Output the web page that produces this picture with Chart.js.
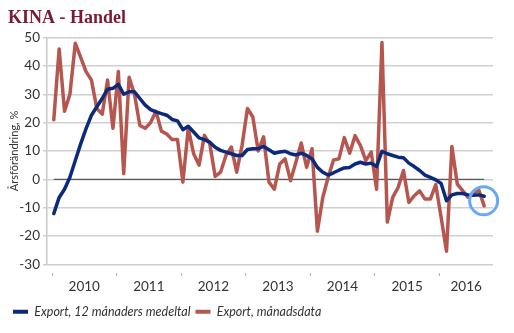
<!DOCTYPE html>
<html lang="sv">
<head>
<meta charset="UTF-8">
<title>KINA - Handel</title>
<style>
    html, body { margin: 0; padding: 0; background: #ffffff; }
    #wrap { width: 514px; height: 333px; position: relative; }
</style>
</head>
<body>
<div id="wrap"><canvas id="chart"></canvas></div>
<script src="https://cdn.jsdelivr.net/npm/chart.js"></script>
<script>
// monthly data, Jan 2010 .. Sep 2016
const years = ['2010', '2011', '2012', '2013', '2014', '2015', '2016'];

const exportAvg12 = [
    -12.1, -6.4, -3.5, 0.7, 6.6, 12.5, 17.9, 22.6, 25.6, 28.5, 31.8, 32.1,
    33.5, 30.0, 30.9, 30.9, 28.5, 26.2, 24.6, 23.8, 23.2, 22.6, 21.1, 20.6,
    17.5, 18.7, 16.7, 14.6, 14.0, 13.1, 11.3, 10.2, 9.6, 9.0, 8.4, 8.4,
    10.5, 10.8, 10.8, 11.6, 10.4, 9.2, 9.6, 9.9, 9.0, 8.6, 9.2, 8.4,
    7.2, 4.2, 2.5, 1.5, 2.3, 3.2, 4.0, 4.2, 5.4, 6.0, 5.4, 5.7,
    4.5, 9.9, 9.0, 8.4, 7.8, 7.6, 5.7, 4.5, 3.1, 1.5, 0.7, -0.2,
    -1.5, -7.6, -5.5, -5.0, -5.0, -5.5, -5.6, -5.5, -6.0
];

const exportMonthly = [
    21, 46, 24, 30, 48, 43, 38, 35, 25, 23, 35, 18,
    38, 2, 36, 30, 19, 18, 20, 24, 17, 16, 14, 14,
    -1, 18, 9, 5, 15.5, 12.5, 1, 2.5, 8.4, 11.4, 2.5, 12,
    25, 22, 10, 15, -1, -3.5, 5.4, 7.2, -0.5, 6, 12.8, 4.2,
    10.8, -18.3, -6.4, 0.7, 6.8, 7.2, 14.7, 9.2, 15.4, 11.9, 6.6, 9.6,
    -3.5, 48.3, -15.1, -6.4, -2.9, 3.1, -8.2, -5.8, -4.1, -7, -7, -1.9,
    -13.5, -25.4, 11.6, -1.7, -4, -6.4, -5, -3.8, -9.4
];

// marked latest reading
const highlight = [{ x: 79.9, y: -7.6 }];

const lastIdx = exportMonthly.length - 1;
const toPoints = arr => arr.map((v, i) => ({ x: i, y: v }));

// year boundaries and label positions on the month axis
const yearStart = years.map((y, k) => 12 * k - 0.33);
const axisMax = 81.64;
const yearMid = years.map((y, k) => {
    const end = k < years.length - 1 ? yearStart[k + 1] : axisMax;
    return (yearStart[k] + end) / 2;
});

Chart.defaults.font.family = 'Lato, "Open Sans", sans-serif';
Chart.defaults.color = '#3a3a3a';

const ctx = document.getElementById('chart').getContext('2d');
new Chart(ctx, {
    type: 'line',
    data: {
        datasets: [
            {
                label: 'Export, 12 månaders medeltal',
                data: toPoints(exportAvg12),
                borderColor: '#0c2a7c',
                backgroundColor: '#0c2a7c',
                borderWidth: 3.5,
                pointRadius: 0,
                tension: 0,
                borderJoinStyle: 'round',
                borderCapStyle: 'round',
                order: 1
            },
            {
                label: 'Export, månadsdata',
                data: toPoints(exportMonthly),
                borderColor: '#b5574f',
                backgroundColor: '#b5574f',
                borderWidth: 3.5,
                pointRadius: 0,
                tension: 0,
                borderJoinStyle: 'round',
                borderCapStyle: 'round',
                order: 2
            },
            {
                label: 'zero',
                data: [{ x: 0, y: 0 }, { x: lastIdx, y: 0 }],
                borderColor: '#5a5a5a',
                borderWidth: 1.2,
                pointRadius: 0,
                order: 3
            },
            {
                label: 'mark',
                data: highlight,
                showLine: false,
                pointRadius: 14,
                pointBorderWidth: 3,
                pointBorderColor: '#6aa8f2',
                pointBackgroundColor: 'rgba(0,0,0,0)',
                pointHoverRadius: 14,
                clip: false,
                order: 0
            }
        ]
    },
    options: {
        responsive: true,
        maintainAspectRatio: false,
        animation: false,
        layout: { padding: { left: 8, right: 21, top: 0, bottom: 5 } },
        plugins: {
            title: {
                display: true,
                text: 'KINA - Handel',
                align: 'start',
                color: '#7a1b33',
                font: { family: '"Liberation Serif", "DejaVu Serif", serif', size: 18, weight: 'bold' },
                padding: { top: 8, bottom: 8 }
            },
            legend: {
                position: 'bottom',
                align: 'start',
                labels: {
                    boxWidth: 15,
                    boxHeight: 4,
                    padding: 5,
                    color: '#333',
                    font: { size: 12.5, style: 'italic' },
                    filter: item => item.datasetIndex < 2,
                    generateLabels: chart => {
                        const items = Chart.defaults.plugins.legend.labels.generateLabels(chart);
                        items.forEach(it => { it.lineWidth = 0; });
                        return items;
                    }
                }
            },
            tooltip: { enabled: false }
        },
        scales: {
            x: {
                type: 'linear',
                min: -1.26,
                max: axisMax,
                border: { display: false },
                grid: {
                    drawOnChartArea: false,
                    tickLength: 12,
                    tickWidth: 1.2,
                    tickBorderDash: [0, 9, 3, 20],
                    tickColor: c => (c.tick && yearStart.includes(c.tick.value)) ? '#b8b8b8' : 'rgba(0,0,0,0)'
                },
                afterBuildTicks: axis => {
                    axis.ticks = yearStart.concat(yearMid).map(v => ({ value: v }));
                },
                afterFit: scale => { scale.height = scale.height + 4; },
                ticks: {
                    autoSkip: false,
                    maxRotation: 0,
                    padding: 2,
                    color: '#333',
                    font: { size: 13.5 },
                    callback: (value) => {
                        const k = yearMid.indexOf(value);
                        return k >= 0 ? years[k] : '';
                    }
                }
            },
            y: {
                min: -30,
                max: 50,
                border: { display: true, color: '#c8c8c8', width: 1.5 },
                grid: { color: '#d0d0d0', lineWidth: 1.5, tickLength: 4 },
                ticks: {
                    stepSize: 10,
                    padding: 3,
                    color: '#333',
                    font: { size: 13.5 }
                },
                title: {
                    display: true,
                    text: 'Årsförändring, %',
                    color: '#333',
                    font: { size: 11 },
                    padding: { top: 0, bottom: 0 }
                },
                afterFit: scale => { scale.width = 39; }
            }
        }
    }
});
</script>
</body>
</html>
